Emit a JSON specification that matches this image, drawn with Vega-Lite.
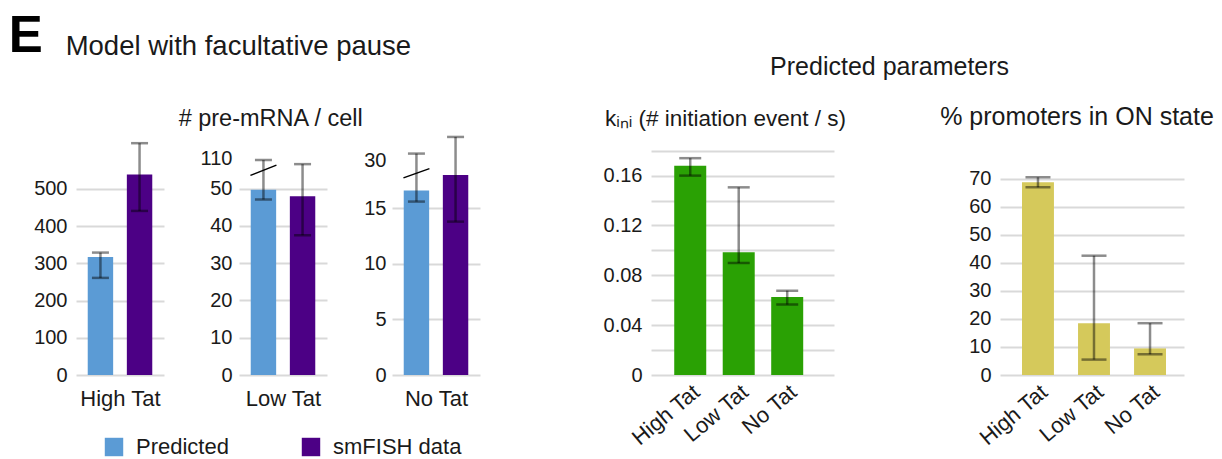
{
  "$schema": "https://vega.github.io/schema/vega-lite/v6.json",
  "padding": {"left": 8, "top": 11, "right": 5, "bottom": 5},
  "background": "white",
  "config": {
    "font": "Liberation Sans",
    "view": {"stroke": null},
    "axis": {"domain": false, "ticks": false, "tickCount": 30, "labelFont": "Liberation Sans", "labelFontSize": 20, "labelColor": "#1a1a1a", "labelPadding": 9, "labelOverlap": false, "gridColor": "#d9d9d9", "gridWidth": 2, "titleFont": "Liberation Sans", "titleFontWeight": "normal", "titleFontSize": 22, "titleColor": "#1a1a1a"},
    "title": {"font": "Liberation Sans", "fontWeight": "normal", "color": "#1a1a1a"},
    "legend": {"labelFont": "Liberation Sans"}
  },
  "title": {"text": "E", "fontSize": 51, "fontWeight": "bold", "anchor": "start", "frame": "bounds", "dx": -25, "dy": 30, "offset": 0, "color": "#000000"},
  "datasets": {
    "hiTat": [
      {"cond": "High Tat", "series": "Predicted", "value": 317, "lo": 261, "hi": 329},
      {"cond": "High Tat", "series": "smFISH data", "value": 539, "lo": 441, "hi": 623}
    ],
    "lowTat": [
      {"cond": "Low Tat", "series": "Predicted", "value": 49.7, "lo": 47.1, "hi": 106},
      {"cond": "Low Tat", "series": "smFISH data", "value": 48.0, "lo": 37.5, "hi": 98}
    ],
    "noTat": [
      {"cond": "No Tat", "series": "Predicted", "value": 20.6, "lo": 17.1, "hi": 32.1},
      {"cond": "No Tat", "series": "smFISH data", "value": 25.4, "lo": 13.8, "hi": 37.3}
    ],
    "breakLow": [{"series": "Predicted", "y1": 76, "y2": 96}],
    "breakNo": [{"series": "Predicted", "y1": 24.5, "y2": 27.4}],
    "kini": [
      {"cond": "High Tat", "value": 0.168, "lo": 0.160, "hi": 0.174},
      {"cond": "Low Tat", "value": 0.0985, "lo": 0.0899, "hi": 0.1506},
      {"cond": "No Tat", "value": 0.0626, "lo": 0.0565, "hi": 0.0677}
    ],
    "pon": [
      {"cond": "High Tat", "value": 68.8, "lo": 67.0, "hi": 70.6},
      {"cond": "Low Tat", "value": 18.5, "lo": 5.5, "hi": 42.6},
      {"cond": "No Tat", "value": 9.5, "lo": 7.4, "hi": 18.5}
    ]
  },
  "spacing": 123,
  "hconcat": [
    {
      "title": {"text": "Model with facultative pause", "fontSize": 27.5, "anchor": "start", "frame": "bounds", "dx": 32, "offset": 46},
      "hconcat": [
        {
          "title": {"text": "# pre-mRNA / cell", "fontSize": 23.5, "offset": 5, "anchor": "start", "frame": "bounds", "dx": 145},
          "spacing": 36,
          "hconcat": [
            {
              "width": 88, "height": 240,
              "data": {"name": "hiTat"},
              "encoding": {"x": {"field": "series", "type": "nominal", "scale": {"paddingInner": 0.35, "paddingOuter": 0.3}, "axis": {"labels": false, "title": "High Tat", "titlePadding": 13}}},
              "layer": [
                {"mark": {"type": "bar"}, "encoding": {
                  "y": {"field": "value", "type": "quantitative", "scale": {"domain": [0, 645], "nice": false}, "axis": {"values": [0, 100, 200, 300, 400, 500], "title": null}},
                  "color": {"field": "series", "type": "nominal", "scale": {"domain": ["Predicted", "smFISH data"], "range": ["#5b9bd5", "#4c0085"]},
                    "legend": {"orient": "none", "legendX": 27, "legendY": 301, "direction": "horizontal", "columns": 2, "title": null, "symbolType": "square", "symbolSize": 340, "symbolStrokeWidth": 0, "symbolOpacity": 1, "labelFontSize": 22, "labelColor": "#1a1a1a", "columnPadding": 71, "labelOffset": 11}}}},
                {"mark": {"type": "rule", "color": "black", "opacity": 0.45, "strokeWidth": 2.5}, "encoding": {"y": {"field": "lo", "type": "quantitative", "title": null}, "y2": {"field": "hi"}}},
                {"mark": {"type": "tick", "color": "black", "opacity": 0.45, "thickness": 2.5, "size": 17}, "encoding": {"y": {"field": "lo", "type": "quantitative", "title": null}}},
                {"mark": {"type": "tick", "color": "black", "opacity": 0.45, "thickness": 2.5, "size": 17}, "encoding": {"y": {"field": "hi", "type": "quantitative", "title": null}}}
              ]
            },
            {
              "width": 88, "height": 240,
              "data": {"name": "lowTat"},
              "encoding": {"x": {"field": "series", "type": "nominal", "scale": {"paddingInner": 0.35, "paddingOuter": 0.3}, "axis": {"labels": false, "title": "Low Tat", "titlePadding": 13}}},
              "layer": [
                {"mark": {"type": "bar"}, "encoding": {
                  "y": {"field": "value", "type": "quantitative", "scale": {"domain": [0, 50, 110], "range": [240, 53.7, 23], "nice": false}, "axis": {"values": [0, 10, 20, 30, 40, 50, 110], "tickCount": 30, "title": null, "labelPadding": 7, "gridOpacity": {"condition": {"test": "datum.value > 100", "value": 0}, "value": 1}}},
                  "color": {"field": "series", "type": "nominal", "scale": {"domain": ["Predicted", "smFISH data"], "range": ["#5b9bd5", "#4c0085"]}}}},
                {"mark": {"type": "rule", "color": "black", "opacity": 0.45, "strokeWidth": 2.5}, "encoding": {"y": {"field": "lo", "type": "quantitative", "title": null}, "y2": {"field": "hi"}}},
                {"mark": {"type": "tick", "color": "black", "opacity": 0.45, "thickness": 2.5, "size": 17}, "encoding": {"y": {"field": "lo", "type": "quantitative", "title": null}}},
                {"mark": {"type": "tick", "color": "black", "opacity": 0.45, "thickness": 2.5, "size": 17}, "encoding": {"y": {"field": "hi", "type": "quantitative", "title": null}}},
                {"data": {"name": "breakLow"}, "mark": {"type": "rule", "color": "black", "strokeWidth": 1.5, "xOffset": -13, "x2Offset": 13}, "encoding": {"x2": {"field": "series"}, "y": {"field": "y1", "type": "quantitative", "title": null}, "y2": {"field": "y2"}}}
              ]
            },
            {
              "width": 88, "height": 240,
              "data": {"name": "noTat"},
              "encoding": {"x": {"field": "series", "type": "nominal", "scale": {"paddingInner": 0.35, "paddingOuter": 0.3}, "axis": {"labels": false, "title": "No Tat", "titlePadding": 13}}},
              "layer": [
                {"mark": {"type": "bar"}, "encoding": {
                  "y": {"field": "value", "type": "quantitative", "scale": {"domain": [0, 15, 30], "range": [240, 73.3, 25.3], "nice": false}, "axis": {"values": [0, 5, 10, 15, 30], "tickCount": 30, "title": null, "labelPadding": 6, "gridOpacity": {"condition": {"test": "datum.value > 20", "value": 0}, "value": 1}}},
                  "color": {"field": "series", "type": "nominal", "scale": {"domain": ["Predicted", "smFISH data"], "range": ["#5b9bd5", "#4c0085"]}}}},
                {"mark": {"type": "rule", "color": "black", "opacity": 0.45, "strokeWidth": 2.5}, "encoding": {"y": {"field": "lo", "type": "quantitative", "title": null}, "y2": {"field": "hi"}}},
                {"mark": {"type": "tick", "color": "black", "opacity": 0.45, "thickness": 2.5, "size": 17}, "encoding": {"y": {"field": "lo", "type": "quantitative", "title": null}}},
                {"mark": {"type": "tick", "color": "black", "opacity": 0.45, "thickness": 2.5, "size": 17}, "encoding": {"y": {"field": "hi", "type": "quantitative", "title": null}}},
                {"data": {"name": "breakNo"}, "mark": {"type": "rule", "color": "black", "strokeWidth": 1.5, "xOffset": -13, "x2Offset": 13}, "encoding": {"x2": {"field": "series"}, "y": {"field": "y1", "type": "quantitative", "title": null}, "y2": {"field": "y2"}}}
              ]
            }
          ]
        }
      ]
    },
    {
      "title": {"text": ["", "Predicted parameters"], "fontSize": 25, "lineHeight": 20, "anchor": "start", "frame": "bounds", "dx": 167, "offset": 25},
      "spacing": 93,
      "hconcat": [
        {
          "width": 183, "height": 240,
          "title": {"text": "kᵢₙᵢ (# initiation event / s)", "fontSize": 22.5, "offset": 5, "dx": -17},
          "data": {"name": "kini"},
          "encoding": {"x": {"field": "cond", "type": "nominal", "sort": null, "scale": {"paddingInner": 0.34, "paddingOuter": 0.557, "align": 0.43}, "axis": {"title": null, "labelAngle": -40, "labelFontSize": 22, "labelPadding": 6}}},
          "layer": [
            {"mark": {"type": "bar", "color": "#2aa104"}, "encoding": {
              "y": {"field": "value", "type": "quantitative", "scale": {"domain": [0, 0.1926], "nice": false}, "axis": {"values": [0, 0.02, 0.04, 0.06, 0.08, 0.1, 0.12, 0.14, 0.16, 0.18], "tickCount": 30, "title": null, "labelExpr": "abs(round(datum.value * 100)) % 4 != 0 ? '' : (datum.value == 0 ? '0' : format(datum.value, '.2f'))"}}}},
            {"mark": {"type": "rule", "color": "black", "opacity": 0.45, "strokeWidth": 2.5}, "encoding": {"y": {"field": "lo", "type": "quantitative", "title": null}, "y2": {"field": "hi"}}},
            {"mark": {"type": "tick", "color": "black", "opacity": 0.45, "thickness": 2.5, "size": 22}, "encoding": {"y": {"field": "lo", "type": "quantitative", "title": null}}},
            {"mark": {"type": "tick", "color": "black", "opacity": 0.45, "thickness": 2.5, "size": 22}, "encoding": {"y": {"field": "hi", "type": "quantitative", "title": null}}}
          ]
        },
        {
          "width": 184, "height": 240,
          "title": {"text": "% promoters in ON state", "fontSize": 25, "offset": 5, "dx": -15},
          "data": {"name": "pon"},
          "encoding": {"x": {"field": "cond", "type": "nominal", "sort": null, "scale": {"paddingInner": 0.43, "paddingOuter": 0.357, "align": 0.55}, "axis": {"title": null, "labelAngle": -40, "labelFontSize": 22, "labelPadding": 6}}},
          "layer": [
            {"mark": {"type": "bar", "color": "#d5c95b"}, "encoding": {
              "y": {"field": "value", "type": "quantitative", "scale": {"domain": [0, 85.7], "nice": false}, "axis": {"values": [0, 10, 20, 30, 40, 50, 60, 70], "tickCount": 30, "title": null}}}},
            {"mark": {"type": "rule", "color": "black", "opacity": 0.45, "strokeWidth": 2.5}, "encoding": {"y": {"field": "lo", "type": "quantitative", "title": null}, "y2": {"field": "hi"}}},
            {"mark": {"type": "tick", "color": "black", "opacity": 0.45, "thickness": 2.5, "size": 25}, "encoding": {"y": {"field": "lo", "type": "quantitative", "title": null}}},
            {"mark": {"type": "tick", "color": "black", "opacity": 0.45, "thickness": 2.5, "size": 25}, "encoding": {"y": {"field": "hi", "type": "quantitative", "title": null}}}
          ]
        }
      ]
    }
  ]
}
